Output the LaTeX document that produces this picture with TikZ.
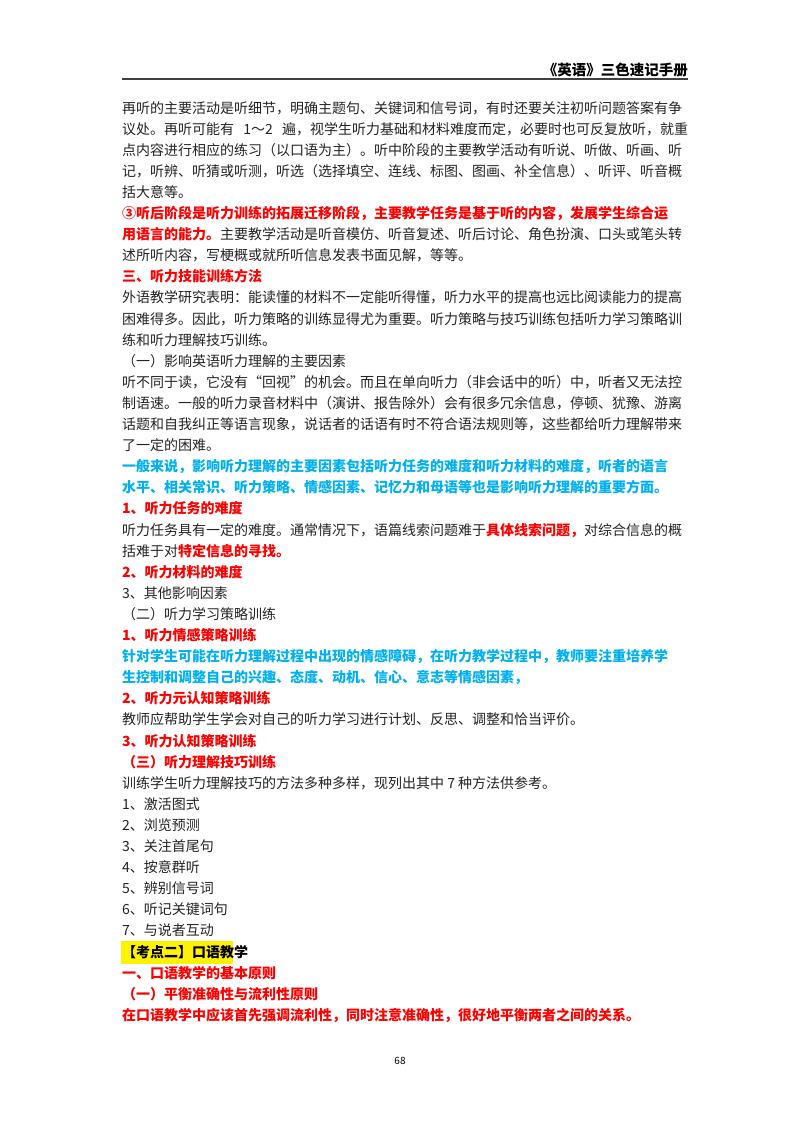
\documentclass[tikz,border=0pt]{standalone}
\usepackage{fontspec}
\setmainfont{Noto Sans CJK SC}
\XeTeXlinebreaklocale "zh"
\XeTeXlinebreakskip=0pt plus 1fil
\definecolor{rd}{RGB}{255,0,0}
\definecolor{bl}{RGB}{0,176,240}
\definecolor{tx}{RGB}{35,35,35}
\newcommand\R[1]{\textcolor{rd}{\bfseries #1}}
\newcommand\B[1]{\textcolor{bl}{\bfseries #1}}
\tikzset{ln/.style={anchor=base west,inner sep=0pt,text=tx,font=\fontsize{14}{14}\selectfont}}
\newcommand\J[3]{\node[ln] (#1) at (122,{113+21.1*#2}) {\hbox to 566pt{#3}};}
\newcommand\N[3]{\node[ln] (#1) at (122,{113+21.1*#2}) {#3};}
\begin{document}
\begin{tikzpicture}[x=1pt,y=-1pt]
\useasboundingbox (0,0) rectangle (800,1132);
\node[anchor=base east,inner sep=0pt,font=\fontsize{14.5}{14.5}\selectfont\bfseries] (hd) at (688,75) {《英语》三色速记手册};
\draw[line width=1.2pt,black!75] (122,79) -- (688,79);
\J{a0}{0}{再听的主要活动是听细节，明确主题句、关键词和信号词，有时还要关注初听问题答案有争}
\J{a1}{1}{议处。再听可能有 1～2 遍，视学生听力基础和材料难度而定，必要时也可反复放听，就重}
\J{a2}{2}{点内容进行相应的练习（以口语为主）。听中阶段的主要教学活动有听说、听做、听画、听}
\J{a3}{3}{记，听辨、听猜或听测，听选（选择填空、连线、标图、图画、补全信息）、听评、听音概}
\N{a4}{4}{括大意等。}
\J{a5}{5}{\R{③听后阶段是听力训练的拓展迁移阶段，主要教学任务是基于听的内容，发展学生综合运}}
\J{a6}{6}{\R{用语言的能力。}主要教学活动是听音模仿、听音复述、听后讨论、角色扮演、口头或笔头转}
\N{a7}{7}{述所听内容，写梗概或就所听信息发表书面见解，等等。}
\N{a8}{8}{\R{三、听力技能训练方法}}
\J{a9}{9}{外语教学研究表明：能读懂的材料不一定能听得懂，听力水平的提高也远比阅读能力的提高}
\J{a10}{10}{困难得多。因此，听力策略的训练显得尤为重要。听力策略与技巧训练包括听力学习策略训}
\N{a11}{11}{练和听力理解技巧训练。}
\N{a12}{12}{（一）影响英语听力理解的主要因素}
\J{a13}{13}{听不同于读，它没有“回视”的机会。而且在单向听力（非会话中的听）中，听者又无法控}
\J{a14}{14}{制语速。一般的听力录音材料中（演讲、报告除外）会有很多冗余信息，停顿、犹豫、游离}
\J{a15}{15}{话题和自我纠正等语言现象，说话者的话语有时不符合语法规则等，这些都给听力理解带来}
\N{a16}{16}{了一定的困难。}
\J{a17}{17}{\B{一般来说，影响听力理解的主要因素包括听力任务的难度和听力材料的难度，听者的语言}}
\N{a18}{18}{\B{水平、相关常识、听力策略、情感因素、记忆力和母语等也是影响听力理解的重要方面。}}
\N{a19}{19}{\R{1、听力任务的难度}}
\J{a20}{20}{听力任务具有一定的难度。通常情况下，语篇线索问题难于\R{具体线索问题，}对综合信息的概}
\N{a21}{21}{括难于对\R{特定信息的寻找。}}
\N{a22}{22}{\R{2、听力材料的难度}}
\N{a23}{23}{3、其他影响因素}
\N{a24}{24}{（二）听力学习策略训练}
\N{a25}{25}{\R{1、听力情感策略训练}}
\J{a26}{26}{\B{针对学生可能在听力理解过程中出现的情感障碍，在听力教学过程中，教师要注重培养学}}
\N{a27}{27}{\B{生控制和调整自己的兴趣、态度、动机、信心、意志等情感因素，}}
\N{a28}{28}{\R{2、听力元认知策略训练}}
\N{a29}{29}{教师应帮助学生学会对自己的听力学习进行计划、反思、调整和恰当评价。}
\N{a30}{30}{\R{3、听力认知策略训练}}
\N{a31}{31}{\R{（三）听力理解技巧训练}}
\N{a32}{32}{训练学生听力理解技巧的方法多种多样，现列出其中 7 种方法供参考。}
\N{a33}{33}{1、激活图式}
\N{a34}{34}{2、浏览预测}
\N{a35}{35}{3、关注首尾句}
\N{a36}{36}{4、按意群听}
\N{a37}{37}{5、辨别信号词}
\N{a38}{38}{6、听记关键词句}
\N{a39}{39}{7、与说者互动}
\fill[yellow] (121,941) rectangle (233,964);
\N{a40}{40}{\textcolor{black}{\bfseries 【考点二】口语教学}}
\N{a41}{41}{\R{一、口语教学的基本原则}}
\N{a42}{42}{\R{（一）平衡准确性与流利性原则}}
\N{a43}{43}{\R{在口语教学中应该首先强调流利性，同时注意准确性，很好地平衡两者之间的关系。}}
\node[anchor=base,inner sep=0pt,font=\fontsize{10}{10}\selectfont] (pg) at (400,1064) {68};
\end{tikzpicture}
\end{document}
